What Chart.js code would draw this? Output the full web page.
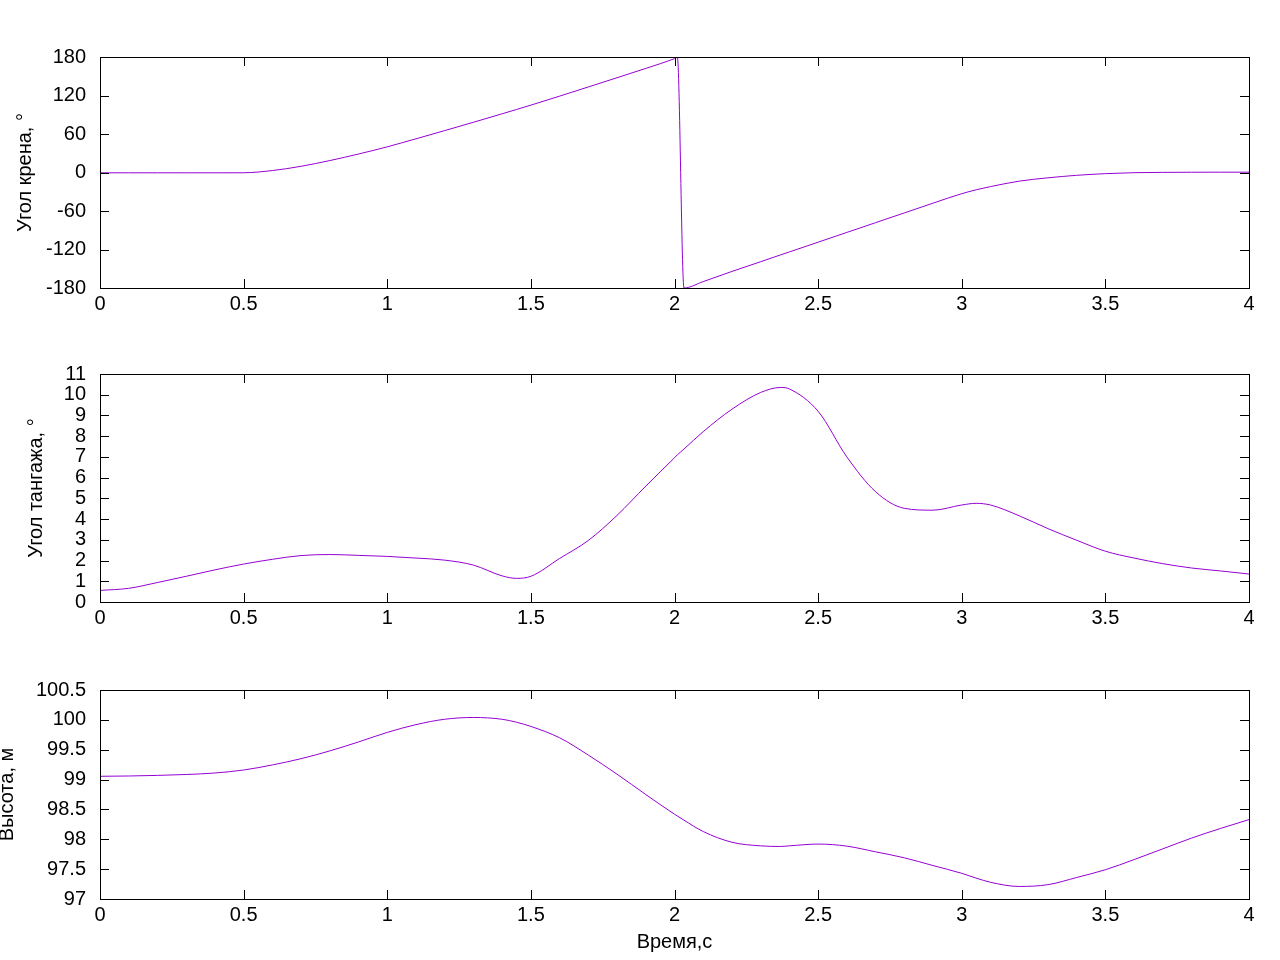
<!DOCTYPE html>
<html>
<head>
<meta charset="utf-8">
<script src="https://cdn.jsdelivr.net/npm/chart.js@4.4.1/dist/chart.umd.min.js"></script>
<style>
  body { margin: 0; background: #fff; }
  #wrap { position: relative; width: 1280px; height: 960px; }
  canvas { position: absolute; left: 0; }
</style>
</head>
<body>
<div id="wrap">
  <canvas id="roll" width="1280" height="330" style="top:0px"></canvas>
  <canvas id="pitch" width="1280" height="310" style="top:330px"></canvas>
  <canvas id="alt" width="1280" height="320" style="top:640px"></canvas>
</div>
<script>
// time, s
const time = [0, 0.1, 0.2, 0.3, 0.4, 0.5, 0.6, 0.7, 0.8, 0.9, 1.0, 1.1, 1.2, 1.3, 1.4, 1.45,
  1.5, 1.6, 1.7, 1.8, 1.9, 2.0, 2.01, 2.033, 2.1, 2.2, 2.3, 2.37, 2.4, 2.5, 2.6, 2.7, 2.8, 2.9,
  3.0, 3.05, 3.1, 3.2, 3.3, 3.4, 3.5, 3.6, 3.7, 3.8, 3.9, 4.0];

// roll angle, deg
const roll = [-0.5, -0.5, -0.5, -0.5, -0.5, -0.4, 3.0, 9.7, 18.6, 28.8, 40, 52.5, 65.3, 78.3, 91.5, 98.2,
  105, 119, 133.3, 147.7, 162.2, 177.5, 179.5, -180, -170, -154.2, -139, -128.3, -123.8, -108.6, -93.4, -78.2, -63, -47.8,
  -33, -27, -22, -13.5, -8.3, -4.4, -1.8, -0.3, 0.2, 0.4, 0.5, 0.5];

// pitch angle, deg
const pitch = [0.56, 0.66, 0.94, 1.24, 1.55, 1.83, 2.06, 2.24, 2.29, 2.25, 2.2, 2.12, 2.02, 1.78, 1.26, 1.14,
  1.24, 2.1, 2.97, 4.18, 5.59, 6.96, 7.1, 7.38, 8.22, 9.3, 10.11, 10.35, 10.28, 9.2, 7.0, 5.32, 4.52, 4.43,
  4.68, 4.76, 4.68, 4.16, 3.54, 2.98, 2.45, 2.12, 1.85, 1.64, 1.5, 1.35];

// altitude, m
const altitude = [99.055, 99.06, 99.07, 99.085, 99.11, 99.16, 99.245, 99.35, 99.48, 99.63, 99.79, 99.92, 100.01, 100.04, 100.01, 99.96,
  99.89, 99.70, 99.41, 99.09, 98.75, 98.42, 98.39, 98.32, 98.13, 97.95, 97.89, 97.88, 97.89, 97.92, 97.885, 97.79, 97.69, 97.56,
  97.43, 97.35, 97.28, 97.21, 97.24, 97.36, 97.49, 97.66, 97.84, 98.02, 98.18, 98.33];

// axis ranges: [min, max, step]
const timeAxis = [0, 4, 0.5];
const rollAxis = [-180, 180, 60];
const pitchAxis = [0, 11, 1];
const altAxis = [97, 100.5, 0.5];

const FONT = "'Liberation Sans', Arial, sans-serif";
const FSIZE = 20;
const LINE = '#9400d3';

const fmt = v => String(Math.round(v * 10) / 10);

// gnuplot-like frame with inward ticks on all four sides
const frameTicks = {
  id: 'frameTicks',
  afterDraw(chart) {
    const { ctx, chartArea: a, scales: { x, y } } = chart;
    const L = Math.round(a.left), R = Math.round(a.right), T = Math.round(a.top), B = Math.round(a.bottom);
    ctx.save();
    ctx.strokeStyle = '#000';
    ctx.lineWidth = 1;
    ctx.beginPath();
    x.ticks.forEach(t => {
      const px = Math.round(x.getPixelForValue(t.value)) + 0.5;
      ctx.moveTo(px, B); ctx.lineTo(px, B - 9);
      ctx.moveTo(px, T); ctx.lineTo(px, T + 9);
    });
    y.ticks.forEach(t => {
      const py = Math.round(y.getPixelForValue(t.value)) + 0.5;
      ctx.moveTo(L, py); ctx.lineTo(L + 9, py);
      ctx.moveTo(R, py); ctx.lineTo(R - 9, py);
    });
    ctx.stroke();
    ctx.strokeRect(L + 0.5, T + 0.5, R - L, B - T);
    ctx.restore();
  }
};

function makeChart(id, values, yr, yTitle, titlePad, padTop, xHeight, xTitle) {
  const data = time.map((t, i) => ({ x: t, y: values[i] }));
  return new Chart(document.getElementById(id), {
    type: 'line',
    data: {
      datasets: [{
        data: data,
        borderColor: LINE,
        borderWidth: 1,
        pointRadius: 0,
        cubicInterpolationMode: 'monotone',
        fill: false
      }]
    },
    options: {
      responsive: false,
      animation: false,
      devicePixelRatio: 1,
      locale: 'en-US',
      layout: { padding: { top: padTop, right: 31, left: 0, bottom: 0 } },
      plugins: { legend: { display: false }, tooltip: { enabled: false } },
      scales: {
        x: {
          type: 'linear',
          min: timeAxis[0], max: timeAxis[1],
          grid: { display: false, drawTicks: false },
          border: { display: false },
          ticks: { stepSize: timeAxis[2], autoSkip: false, maxRotation: 0, padding: 4, callback: fmt,
                   color: '#000', font: { family: FONT, size: FSIZE } },
          title: { display: !!xTitle, text: xTitle || '', color: '#000',
                   font: { family: FONT, size: FSIZE }, padding: { top: 0, bottom: 6 } },
          afterFit: s => { s.height = xHeight; }
        },
        y: {
          min: yr[0], max: yr[1],
          grid: { display: false, drawTicks: false },
          border: { display: false },
          ticks: { stepSize: yr[2], autoSkip: false, padding: 14, callback: fmt,
                   color: '#000', font: { family: FONT, size: FSIZE } },
          title: { display: true, text: yTitle, color: '#000',
                   font: { family: FONT, size: FSIZE }, padding: { top: titlePad, bottom: 0 } },
          afterFit: s => { s.width = 100; }
        }
      }
    },
    plugins: [frameTicks]
  });
}

makeChart('roll', roll, rollAxis, 'Угол крена, °', 13, 57, 42);
makeChart('pitch', pitch, pitchAxis, 'Угол тангажа, °', 24, 44, 38);
makeChart('alt', altitude, altAxis, 'Высота, м', -5, 50, 61, 'Время,с');
</script>
</body>
</html>
